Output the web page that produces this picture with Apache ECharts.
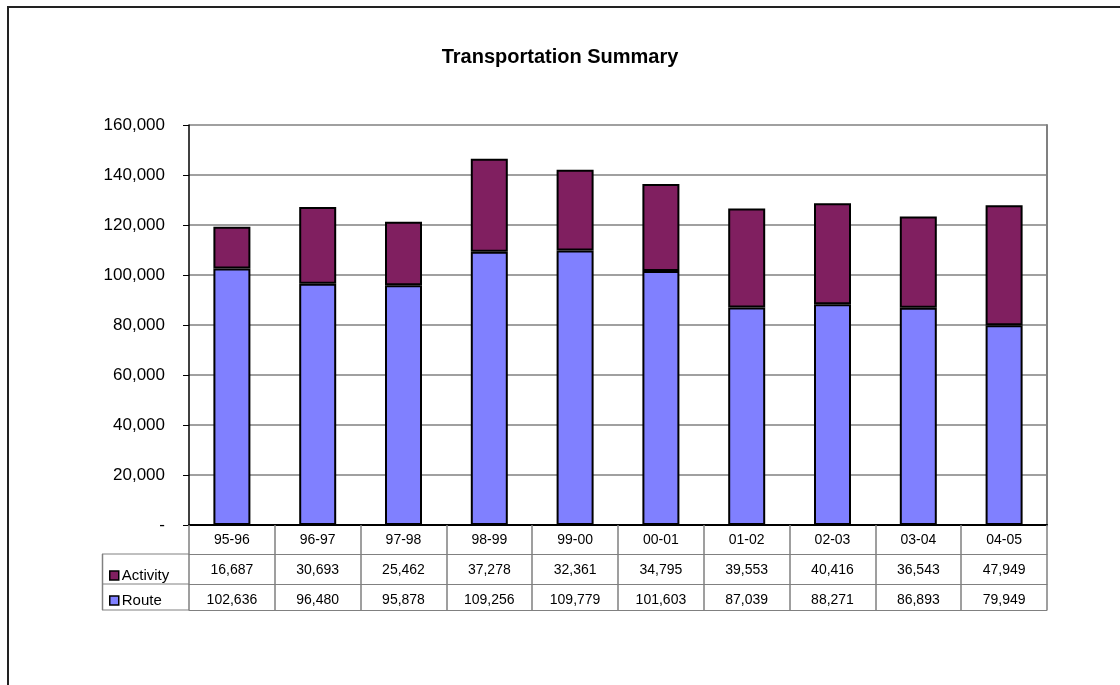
<!DOCTYPE html>
<html>
<head>
<meta charset="utf-8">
<script src="https://cdn.jsdelivr.net/npm/echarts@6/dist/echarts.min.js"></script>
<style>
  html, body { margin: 0; padding: 0; background: #fff; }
  #main { width: 1120px; height: 685px; }
</style>
</head>
<body>
<div id="main"></div>
<script>
// data
const years = ['95-96', '96-97', '97-98', '98-99', '99-00', '00-01', '01-02', '02-03', '03-04', '04-05']
const activity = [16687, 30693, 25462, 37278, 32361, 34795, 39553, 40416, 36543, 47949]
const route = [102636, 96480, 95878, 109256, 109779, 101603, 87039, 88271, 86893, 79949]
const yTicks = { min: 0, max: 160000, interval: 20000 }

const fmt = v => v.toLocaleString('en-US')
const font = 'Arial, "Liberation Sans", sans-serif'
const gray = '#808080'

var myChart = echarts.init(document.getElementById('main'))

// table rows are extra x axes under the plot, offset downwards
function rowAxis(offset, values) {
    return {
        type: 'category',
        data: years,
        position: 'bottom',
        offset: offset,
        axisLine: { show: true, onZero: false, lineStyle: { color: gray, width: 1 } },
        axisTick: { show: false },
        axisLabel: {
            show: !!values,
            margin: 9,
            fontFamily: font,
            fontSize: 14,
            color: '#000',
            formatter: (v, i) => values ? fmt(values[i]) : ''
        },
        splitLine: { show: false }
    }
}

option = {
    animation: false,
    backgroundColor: '#fff',
    title: {
        text: 'Transportation Summary',
        left: 'center',
        top: 42,
        textStyle: { fontFamily: font, fontSize: 20, fontWeight: 'bold', color: '#000' }
    },
    legend: {
        orient: 'vertical',
        left: 104,
        top: 563,
        itemWidth: 9,
        itemHeight: 9,
        itemGap: 10,
        icon: 'rect',
        data: ['Activity', 'Route'],
        itemStyle: { borderColor: '#000', borderWidth: 1.5 },
        textStyle: { fontFamily: font, fontSize: 15, color: '#000', padding: [0, 0, 0, -2] },
        selectedMode: false
    },
    grid: { left: 189, right: 73, top: 125, bottom: 160 },
    xAxis: [
        {
            type: 'category',
            data: years,
            position: 'bottom',
            axisLine: { show: true, lineStyle: { color: '#000', width: 2 } },
            axisTick: { show: true, length: 85, lineStyle: { color: gray, width: 1.5 } },
            axisLabel: { margin: 8, fontFamily: font, fontSize: 14, color: '#000' }
        },
        rowAxis(29, activity),
        rowAxis(59, route),
        rowAxis(85, null)
    ],
    yAxis: [
        {
            type: 'value',
            min: yTicks.min,
            max: yTicks.max,
            interval: yTicks.interval,
            axisLine: { show: true, lineStyle: { color: '#000', width: 1.5 } },
            axisTick: { show: true, length: 6, lineStyle: { color: '#000' } },
            axisLabel: {
                margin: 24,
                fontFamily: font,
                fontSize: 17,
                color: '#000',
                formatter: v => v === 0 ? '-' : fmt(v)
            },
            splitLine: { show: true, lineStyle: { color: gray, width: 1.5 } }
        },
        {
            type: 'value',
            position: 'right',
            min: yTicks.min,
            max: yTicks.max,
            interval: yTicks.interval,
            axisLine: { show: true, lineStyle: { color: gray, width: 2 } },
            axisTick: { show: false },
            axisLabel: { show: false },
            splitLine: { show: false }
        }
    ],
    series: [
        {
            name: 'Route',
            type: 'bar',
            stack: 'total',
            barWidth: 37,
            data: route,
            itemStyle: { color: '#8080FF', borderColor: '#000', borderWidth: 2 }
        },
        {
            name: 'Activity',
            type: 'bar',
            stack: 'total',
            barWidth: 37,
            data: activity,
            itemStyle: { color: '#801F60', borderColor: '#000', borderWidth: 2 }
        }
    ],
    graphic: [
        // outer chart border (runs off the right and bottom)
        { type: 'rect', shape: { x: 8, y: 7, width: 1300, height: 900 }, style: { fill: null, stroke: '#222', lineWidth: 2 }, silent: true },
        // left column of the data table
        { type: 'line', shape: { x1: 102, y1: 554, x2: 189, y2: 554 }, style: { stroke: gray, lineWidth: 1 } },
        { type: 'line', shape: { x1: 102, y1: 584, x2: 189, y2: 584 }, style: { stroke: gray, lineWidth: 1 } },
        { type: 'line', shape: { x1: 102, y1: 610, x2: 189, y2: 610 }, style: { stroke: gray, lineWidth: 1 } },
        { type: 'line', shape: { x1: 102.5, y1: 554, x2: 102.5, y2: 610 }, style: { stroke: gray, lineWidth: 1.5 } }
    ]
}

myChart.setOption(option)
</script>
</body>
</html>
